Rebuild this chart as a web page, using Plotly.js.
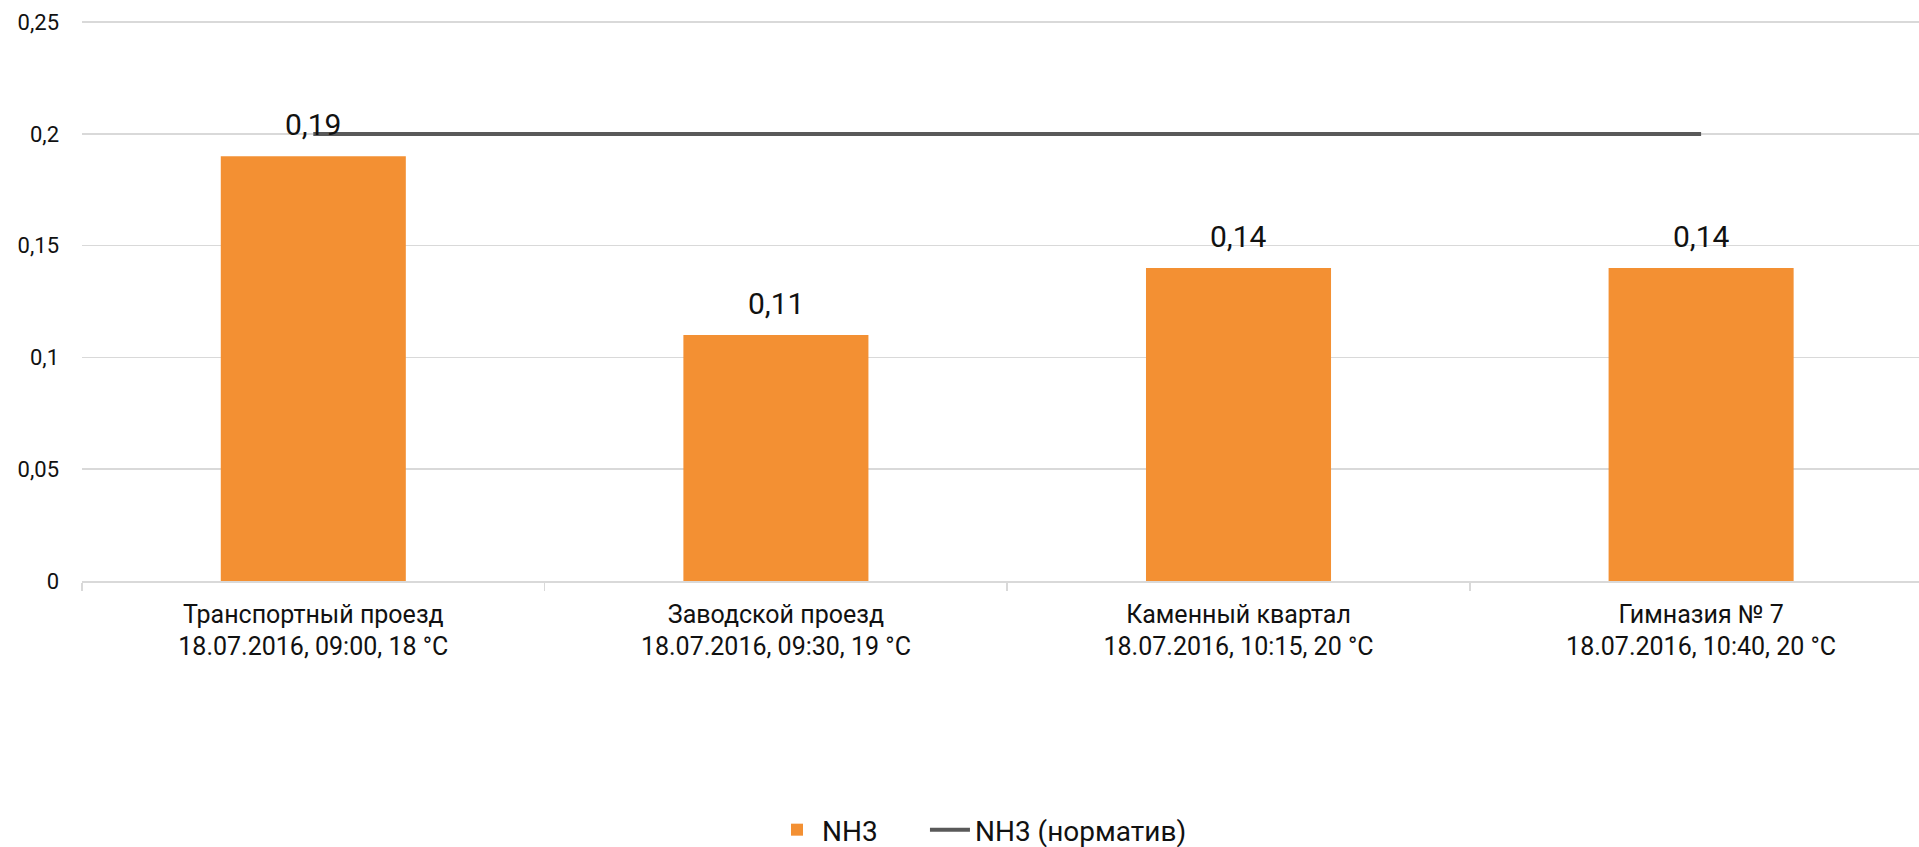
<!DOCTYPE html>
<html>
<head>
<meta charset="utf-8">
<script src="https://cdn.plot.ly/plotly-3.0.1.min.js"></script>
<style>
  html, body { margin: 0; padding: 0; background: #ffffff; }
  #chart { width: 1919px; height: 847px; }
</style>
</head>
<body>
<div id="chart"></div>
<script>
// Data
var categories = [
  "Транспортный проезд<br>18.07.2016, 09:00, 18 °C",
  "Заводской проезд<br>18.07.2016, 09:30, 19 °C",
  "Каменный квартал<br>18.07.2016, 10:15, 20 °C",
  "Гимназия № 7<br>18.07.2016, 10:40, 20 °C"
];
var nh3Values = [0.19, 0.11, 0.14, 0.14];
var normValues = [0.2, 0.2, 0.2, 0.2];
var seriesNames = ["NH3", "NH3 (норматив)"];
var yTickValues = [0, 0.05, 0.1, 0.15, 0.2, 0.25];

var FONT = "Roboto, 'Noto Sans', sans-serif";

var barTrace = {
  type: "bar",
  name: seriesNames[0],
  x: categories,
  y: nh3Values,
  width: 0.4,
  marker: { color: "#F39033" },
  legend: "legend",
  hoverinfo: "none"
};

var lineTrace = {
  type: "scatter",
  mode: "lines",
  name: seriesNames[1],
  x: categories,
  y: normValues,
  line: { color: "#595959", width: 4 },
  legend: "legend2",
  hoverinfo: "none"
};

var annotations = nh3Values.map(function (v, i) {
  return {
    x: categories[i],
    y: v,
    xref: "x",
    yref: "y",
    text: String(v).replace(".", ","),
    showarrow: false,
    yanchor: "bottom",
    yshift: 12,
    font: { family: FONT, size: 30, color: "#111111" }
  };
});

var legendBase = {
  orientation: "h",
  xref: "container",
  yref: "container",
  xanchor: "left",
  y: 0.0201,
  yanchor: "middle",
  font: { family: FONT, size: 28, color: "#111111" },
  itemwidth: 40,
  bgcolor: "rgba(0,0,0,0)"
};

var layout = {
  width: 1919,
  height: 847,
  margin: { l: 82, r: 0, t: 21, b: 266 },
  paper_bgcolor: "#ffffff",
  plot_bgcolor: "#ffffff",
  separators: ", ",
  font: { family: FONT, color: "#111111" },
  showlegend: true,
  legend: Object.assign({}, legendBase, { x: 0.4023 }),
  legend2: Object.assign({}, legendBase, { x: 0.482 }),
  xaxis: {
    type: "category",
    range: [-0.5, 3.471],
    showgrid: false,
    showline: true,
    linecolor: "#d9d9d9",
    linewidth: 1.5,
    ticks: "outside",
    tickson: "boundaries",
    ticklen: 8,
    tickcolor: "#d9d9d9",
    tickwidth: 1.5,
    tickfont: { family: FONT, size: 25, color: "#111111" },
    ticklabelstandoff: 10,
    zeroline: false,
    fixedrange: true
  },
  yaxis: {
    range: [0, 0.2505],
    tickvals: yTickValues,
    showgrid: true,
    gridcolor: "#d9d9d9",
    gridwidth: 1.5,
    zeroline: false,
    showline: false,
    ticks: "",
    tickfont: { family: FONT, size: 22, color: "#111111" },
    ticklabelstandoff: 22,
    fixedrange: true
  },
  bargap: 0.6,
  annotations: annotations
};

Plotly.newPlot("chart", [barTrace, lineTrace], layout, { displayModeBar: false, staticPlot: true });
</script>
</body>
</html>
